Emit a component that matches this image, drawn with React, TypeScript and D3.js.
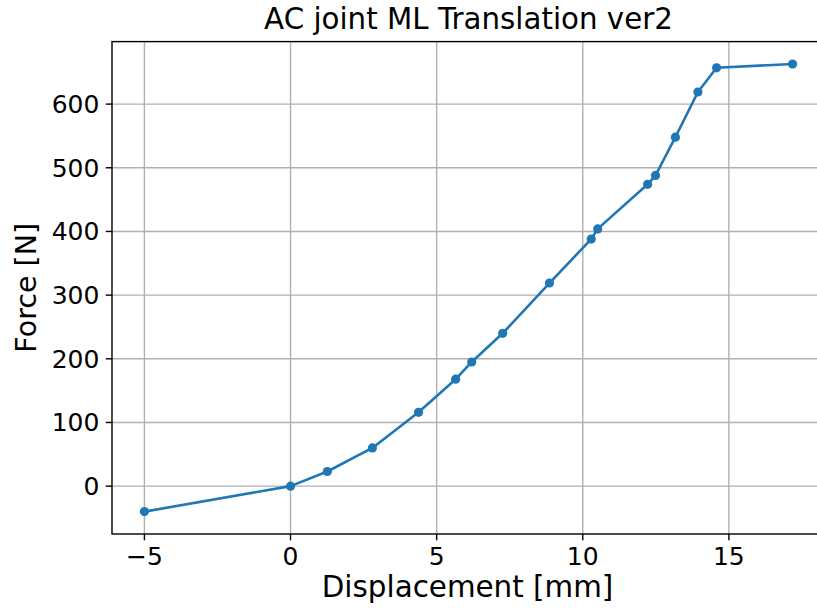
import React from "react";
import * as d3 from "d3";

const displacement = [-5, 0, 1.26, 2.8, 4.38, 5.65, 6.2, 7.26, 8.86, 10.29, 10.51, 12.22, 12.49, 13.17, 13.94, 14.58, 17.18];
const force = [-40, 0, 23, 60, 116, 168, 195, 240, 319, 388, 404, 474, 488, 548, 619, 657, 663];
const xTicks = [-5, 0, 5, 10, 15];
const yTicks = [0, 100, 200, 300, 400, 500, 600];
const title = "AC joint ML Translation ver2";
const xLabel = "Displacement [mm]";
const yLabel = "Force [N]";

const W = 817;
const H = 608;
const left = 112;
const right = 825;
const top = 41.6;
const bottom = 534;
const font = "'DejaVu Sans', sans-serif";
const color = "#1f77b4";

export default function App() {
  const xMin = d3.min(displacement)!;
  const xMax = d3.max(displacement)!;
  const yMin = d3.min(force)!;
  const yMax = d3.max(force)!;
  const xm = (xMax - xMin) * 0.05;
  const ym = (yMax - yMin) * 0.05;
  const x = d3.scaleLinear().domain([xMin - xm, xMax + xm]).range([left, right]);
  const y = d3.scaleLinear().domain([yMin - ym, yMax + ym]).range([bottom, top]);
  const pts = displacement.map((d, i) => [d, force[i]] as [number, number]);
  const line = d3.line<[number, number]>().x((d) => x(d[0])).y((d) => y(d[1]));
  const tickLen = 6.3;
  const fmt = (v: number) => (v < 0 ? "\u2212" + Math.abs(v) : String(v));

  return (
    <svg width={W} height={H} style={{ position: "absolute", left: 0, top: 0, background: "#fff" }}>
      <rect x={0} y={0} width={W} height={H} fill="#fff" />
      {xTicks.map((t) => (
        <line key={"gx" + t} x1={x(t)} x2={x(t)} y1={top} y2={bottom} stroke="#b0b0b0" strokeWidth={1.4} />
      ))}
      {yTicks.map((t) => (
        <line key={"gy" + t} x1={left} x2={right} y1={y(t)} y2={y(t)} stroke="#b0b0b0" strokeWidth={1.4} />
      ))}
      <path d={line(pts) || ""} fill="none" stroke={color} strokeWidth={2.6} strokeLinejoin="round" />
      {pts.map((p, i) => (
        <circle key={i} cx={x(p[0])} cy={y(p[1])} r={4.6} fill={color} />
      ))}
      <rect x={left} y={top} width={right - left} height={bottom - top} fill="none" stroke="#000" strokeWidth={1.4} />
      {xTicks.map((t) => (
        <g key={"xt" + t}>
          <line x1={x(t)} x2={x(t)} y1={bottom} y2={bottom + tickLen} stroke="#000" strokeWidth={1.4} />
          <text x={x(t)} y={565} textAnchor="middle" fontFamily={font} fontSize={25} fill="#000">
            {fmt(t)}
          </text>
        </g>
      ))}
      {yTicks.map((t) => (
        <g key={"yt" + t}>
          <line x1={left - tickLen} x2={left} y1={y(t)} y2={y(t)} stroke="#000" strokeWidth={1.4} />
          <text x={left - tickLen - 6.3} y={y(t)} dy="0.36em" textAnchor="end" fontFamily={font} fontSize={25} fill="#000">
            {fmt(t)}
          </text>
        </g>
      ))}
      <text x={(left + right) / 2} y={29} textAnchor="middle" fontFamily={font} fontSize={29.3} fill="#000">
        {title}
      </text>
      <text x={(left + right) / 2 - 1} y={597} textAnchor="middle" fontFamily={font} fontSize={29.4} fill="#000">
        {xLabel}
      </text>
      <text
        transform={`translate(36, ${(top + bottom) / 2}) rotate(-90)`}
        textAnchor="middle"
        fontFamily={font}
        fontSize={28.5}
        fill="#000"
      >
        {yLabel}
      </text>
    </svg>
  );
}
